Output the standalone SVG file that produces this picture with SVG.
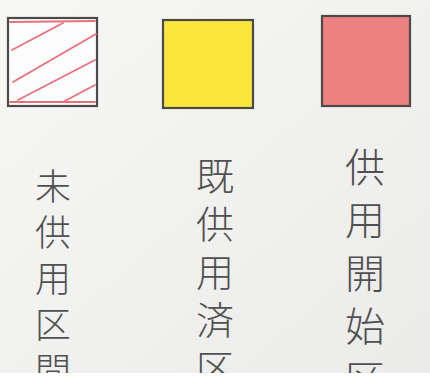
<svg xmlns="http://www.w3.org/2000/svg" width="430" height="382" viewBox="0 0 430 382">
<defs>
<clipPath id="paper"><rect x="0" y="0" width="430" height="373"/></clipPath>
<linearGradient id="bg" x1="0" y1="0" x2="1" y2="1">
<stop offset="0" stop-color="#f7f7f5"/><stop offset="1" stop-color="#ebebea"/>
</linearGradient>
</defs>
<style>
.box{stroke:#4a4a4a;stroke-width:2.2}
.hatch{stroke:#e8707c;stroke-width:1.8;fill:none;stroke-linecap:round}
.lbl{font-family:"Noto Sans CJK JP","Noto Sans CJK SC",sans-serif;font-weight:300;fill:#505050;writing-mode:vertical-rl}
</style>
<rect x="0" y="0" width="430" height="382" fill="#ffffff"/>
<rect x="0" y="0" width="430" height="373" fill="url(#bg)"/>
<g id="legend-unopened">
<rect class="box" x="8" y="18" width="89" height="88" fill="#fdfdfd"/>
<g class="hatch">
<line x1="10" y1="22" x2="95" y2="21"/>
<line x1="10" y1="102" x2="95" y2="102"/>
<line x1="12" y1="50" x2="63" y2="23"/>
<line x1="13" y1="82" x2="96" y2="34"/>
<line x1="18" y1="100" x2="95" y2="60"/>
<line x1="63" y1="102" x2="95" y2="85"/>
</g>
<text class="lbl" x="53" y="168" font-size="36" letter-spacing="10" clip-path="url(#paper)">未供用区間</text>
</g>
<g id="legend-opened">
<rect class="box" x="163" y="20" width="90" height="88" fill="#fbe73c"/>
<text class="lbl" x="215" y="157" font-size="38" letter-spacing="10" clip-path="url(#paper)">既供用済区</text>
</g>
<g id="legend-start">
<rect class="box" x="322" y="16" width="88" height="90" fill="#ef8080"/>
<text class="lbl" x="365" y="147" font-size="40" letter-spacing="13" clip-path="url(#paper)">供用開始区</text>
</g>
<g id="connectors"/>
</svg>
